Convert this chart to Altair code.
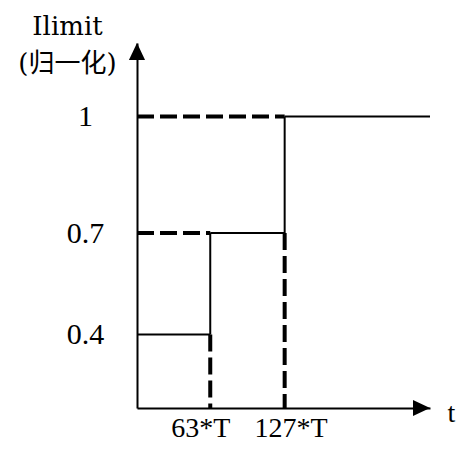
import altair as alt
import pandas as pd

# segment data (t in units of T, y normalised Ilimit)
seg_x = [0, 63, 127, 63, 127, 0, 0, 63, 127]
seg_x2 = [63, 127, 252, 63, 127, 63, 127, 63, 127]
seg_y = [0.4, 0.7, 1.0, 0.4, 0.7, 0.7, 1.0, 0.4, 0.7]
seg_y2 = [0.4, 0.7, 1.0, 0.7, 1.0, 0.7, 1.0, 0.0, 0.0]
seg_style = ["solid", "solid", "solid", "solid", "solid",
             "dashed", "dashed", "dashed", "dashed"]

y_ticks = [0.4, 0.7, 1.0]
x_ticks = [63, 127]
x_max = 252
y_max = 1.25

segs = pd.DataFrame({"x": seg_x, "x2": seg_x2, "y": seg_y, "y2": seg_y2,
                     "style": seg_style})

SERIF = "Liberation Serif, Noto Sans CJK SC"
TSERIF = "DejaVu Serif, Noto Sans CJK SC"

xscale = alt.Scale(domain=[0, x_max], nice=False, zero=False)
yscale = alt.Scale(domain=[0, 0.4, 0.7, 1.0, y_max],
                   range=[365, 291.5, 190, 73.5, 0], nice=False, zero=False)

xaxis = alt.Axis(values=x_ticks, labelExpr="datum.value + '*T'", ticks=False,
                 tickSize=0, grid=False, domainColor="black", domainWidth=2,
                 labelFont=SERIF, labelFontSize=28, labelColor="black",
                 labelPadding=6, labelFlush=False, labelOverlap=False,
                 labelOffset={"condition": {"test": "datum.value === 63", "value": -10},
                              "value": 6},
                 title="t", titleX=310, titleY=13, titleAlign="left",
                 titleBaseline="alphabetic", titleFont=SERIF, titleFontSize=28,
                 titleFontWeight="normal", titleColor="black")

yaxis = alt.Axis(values=y_ticks,
                 labelExpr="datum.value == 1 ? '1' : toString(datum.value)",
                 ticks=False, tickSize=0, grid=False, domainColor="black",
                 domainWidth=2, labelFont=SERIF, labelFontSize=30,
                 labelColor="black", labelAlign="center", labelBaseline="middle",
                 labelPadding=52, labelFlush=False, labelOverlap=False,
                 title=["Ilimit", "(归一化)"], titleAngle=0, titleX=-70,
                 titleY=-9, titleAlign="center", titleBaseline="alphabetic",
                 titleLineHeight=37, titleFont=TSERIF, titleFontSize=26,
                 titleFontWeight="normal", titleColor="black")

base = alt.Chart(segs)

solid = base.transform_filter("datum.style == 'solid'").mark_rule(
    color="black", strokeWidth=2
).encode(
    x=alt.X("x:Q", scale=xscale, axis=xaxis),
    x2="x2:Q",
    y=alt.Y("y:Q", scale=yscale, axis=yaxis),
    y2="y2:Q",
)

dashed = base.transform_filter("datum.style == 'dashed'").mark_rule(
    color="black", strokeWidth=4, strokeDash=[17, 6]
).encode(
    x=alt.X("x:Q", scale=xscale),
    x2="x2:Q",
    y=alt.Y("y:Q", scale=yscale),
    y2="y2:Q",
)

arrow_x = alt.Chart(pd.DataFrame({"x": [x_max], "y": [0.0]})).mark_point(
    shape="M0,0L-2,-0.95L-2,0.95Z", filled=True, size=289, color="black", opacity=1
).encode(x=alt.X("x:Q", scale=xscale), y=alt.Y("y:Q", scale=yscale))

arrow_y = alt.Chart(pd.DataFrame({"x": [0.0], "y": [y_max]})).mark_point(
    shape="M0,0L-0.95,2L0.95,2Z", filled=True, size=289, color="black", opacity=1
).encode(x=alt.X("x:Q", scale=xscale), y=alt.Y("y:Q", scale=yscale))

chart = alt.layer(solid, dashed, arrow_x, arrow_y).properties(
    width=293, height=365,
    padding={"left": 129, "top": 35, "right": 26, "bottom": 34},
    autosize=alt.AutoSizeParams(type="none"),
).configure_view(strokeWidth=0)

chart.save("out.html", embed_options={"renderer": "svg", "actions": False})
